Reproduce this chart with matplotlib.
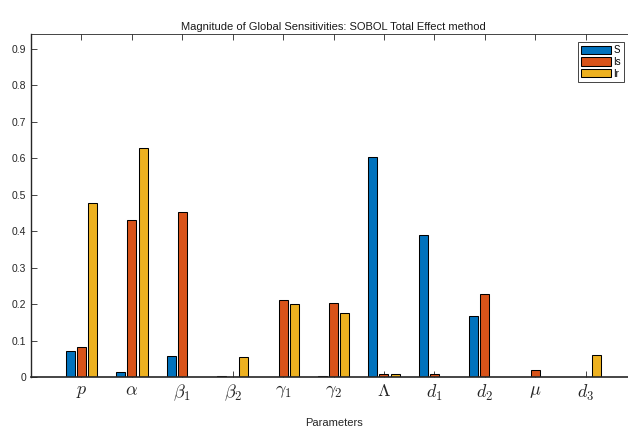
import numpy as np
import matplotlib
matplotlib.use('Agg')
from matplotlib import pyplot as plt

# parameter names and Sobol total effect values
params = [r'$p$', r'$\alpha$', r'$\beta_1$', r'$\beta_2$', r'$\gamma_1$', r'$\gamma_2$',
          r'$\Lambda$', r'$d_1$', r'$d_2$', r'$\mu$', r'$d_3$']
S  = [0.071, 0.015, 0.057, 0.003, 0.001, 0.003, 0.602, 0.390, 0.167, 0.001, 0.001]
Is = [0.081, 0.429, 0.453, 0.001, 0.211, 0.203, 0.009, 0.007, 0.227, 0.018, 0.001]
Ir = [0.476, 0.627, 0.001, 0.054, 0.201, 0.176, 0.008, 0.001, 0.001, 0.001, 0.059]
series_names = ['S', 'Is', 'Ir']
colors = ['#0072BD', '#D95319', '#EDB120']

plt.rcParams['font.family'] = ['Liberation Sans', 'DejaVu Sans']
plt.rcParams['mathtext.fontset'] = 'cm'

fig = plt.figure(figsize=(6.28, 4.32), dpi=100)
ax = fig.add_axes([31 / 628, 55 / 432, 605 / 628, 343 / 432])

x = np.arange(1, len(params) + 1)
off = 0.2222
w = 0.178
for k, (vals, name, c) in enumerate(zip([S, Is, Ir], series_names, colors)):
    ax.bar(x + (k - 1) * off, vals, width=w, color=c, edgecolor='black',
           linewidth=0.75, label=name, zorder=2)

ax.set_xlim(0, 12)
ax.set_ylim(0, 0.94)
ax.set_xticks(x)
ax.set_xticklabels(params, fontsize=13)
ax.set_yticks(np.arange(0, 0.91, 0.1))
ax.set_yticklabels(['0'] + ['%.1f' % v for v in np.arange(0.1, 0.91, 0.1)], fontsize=7.5)
ax.tick_params(direction='in', top=True, right=True, length=4.5, width=0.6,
               color='#262626', labelcolor='#262626', zorder=3)
ax.tick_params(axis='x', pad=4)
for sp in ax.spines.values():
    sp.set_color('#262626')
    sp.set_linewidth(0.6)
    sp.set_zorder(3)
ax.spines['bottom'].set_linewidth(1.2)
ax.spines['left'].set_linewidth(1.0)

ax.set_title('Magnitude of Global Sensitivities: SOBOL Total Effect method',
             fontsize=8, color='#1a1a1a', pad=3)
ax.set_xlabel('Parameters', fontsize=8, color='#262626', labelpad=11)

leg = ax.legend(loc='upper right', bbox_to_anchor=(624 / 628, 1 - 42 / 432),
                bbox_transform=fig.transFigure, borderaxespad=0, fontsize=7,
                handlelength=3.0, handleheight=0.9, handletextpad=0.3,
                labelspacing=0.2, borderpad=0.3, fancybox=False, framealpha=1)
leg.get_frame().set_edgecolor('#262626')
leg.get_frame().set_linewidth(0.6)

fig.savefig('out.png', dpi=100)
